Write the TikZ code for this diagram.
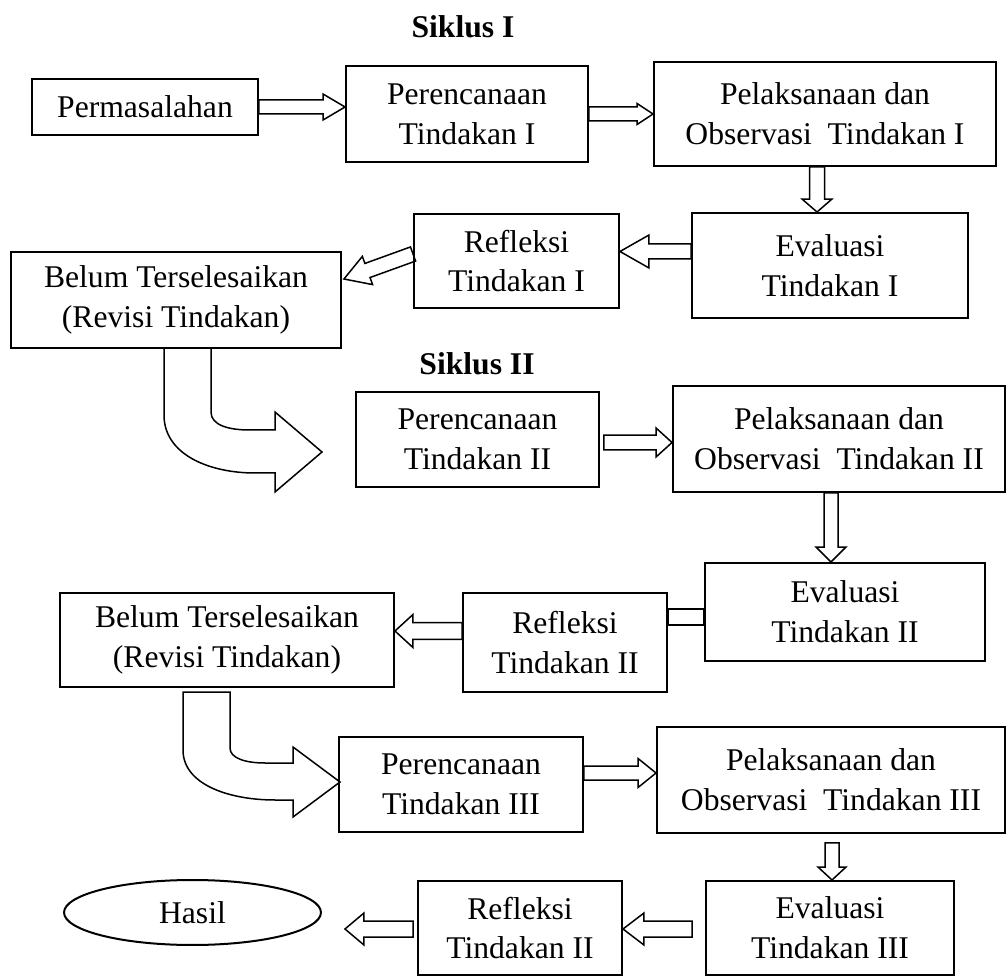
\documentclass[tikz,border=0pt]{standalone}
\usepackage{fontspec}
\setmainfont{Liberation Serif}
\usetikzlibrary{calc}
\usetikzlibrary{shapes.geometric}

\tikzset{
  kotak/.style={draw, line width=0.04cm, color=black, align=center,
                inner sep=0cm, font=\fontsize{18}{22.7}\selectfont},
  judul/.style={font=\bfseries\fontsize{18}{22}\selectfont},
  panah/.style={draw, line width=0.03cm, color=black, line join=miter},
}

% panah blok: dari, ke, setengah batang, setengah kepala, panjang kepala
\newcommand{\blokpanah}[5]{%
  \path (#1) coordinate (pa);
  \path (#2) coordinate (pb);
  \path ($(pb)!#5!(pa)$) coordinate (pm);
  \draw[panah] ($(pa)!#3!90:(pb)$) -- ($(pm)!#3!-90:(pa)$)
    -- ($(pm)!#4!-90:(pa)$) -- (pb) -- ($(pm)!#4!90:(pa)$)
    -- ($(pm)!#3!90:(pa)$) -- ($(pa)!#3!-90:(pb)$) -- cycle;
}

\begin{document}
\begin{tikzpicture}[x=0.02cm, y=-0.02cm]
\useasboundingbox (0,0) rectangle (1008,976);

\node[judul] (s1) at (463,27) {Siklus I};
\node[judul] (s2) at (477,364) {Siklus II};

% siklus I
\node[kotak, minimum width=4.52cm, minimum height=1.12cm] (perm) at (145,107) {Permasalahan};
\node[kotak, minimum width=4.84cm, minimum height=1.92cm] (pI) at (467,114) {Perencanaan\\Tindakan I};
\node[kotak, minimum width=6.84cm, minimum height=2.08cm] (pelI) at (825,114) {Pelaksanaan dan\\Observasi~ Tindakan I};
\node[kotak, minimum width=5.52cm, minimum height=2.10cm] (evI) at (830,265.5) {Evaluasi\\Tindakan I};
\node[kotak, minimum width=4.10cm, minimum height=1.88cm] (refI) at (516.5,261) {Refleksi\\Tindakan I};
\node[kotak, minimum width=6.60cm, minimum height=1.92cm] (belI) at (176,300) {Belum Terselesaikan\\(Revisi Tindakan)};

% siklus II
\node[kotak, minimum width=4.86cm, minimum height=1.90cm] (perII) at (477.5,439.5) {Perencanaan\\Tindakan II};
\node[kotak, minimum width=6.64cm, minimum height=2.12cm] (pelII) at (839,439) {Pelaksanaan dan\\Observasi~ Tindakan II};
\node[kotak, minimum width=5.60cm, minimum height=1.96cm] (evII) at (845,612) {Evaluasi\\Tindakan II};
\node[kotak, minimum width=4.08cm, minimum height=1.98cm] (refII) at (565,642.5) {Refleksi\\Tindakan II};
\node[kotak, minimum width=6.68cm, minimum height=1.88cm] (belII) at (227,640) {Belum Terselesaikan\\(Revisi Tindakan)};

% siklus III
\node[kotak, minimum width=4.88cm, minimum height=1.90cm] (perIII) at (461,784.5) {Perencanaan\\Tindakan III};
\node[kotak, minimum width=6.96cm, minimum height=2.12cm] (pelIII) at (831,780) {Pelaksanaan dan\\Observasi~ Tindakan III};
\node[kotak, minimum width=4.96cm, minimum height=1.88cm] (evIII) at (830,928) {Evaluasi\\Tindakan III};
\node[kotak, minimum width=4.08cm, minimum height=1.88cm] (refB) at (520,928) {Refleksi\\Tindakan II};
\node[kotak, ellipse, minimum width=5.14cm, minimum height=1.30cm] (hasil) at (192.5,912.5) {Hasil};

% panah siklus I
\blokpanah{perm.east}{pa -| pI.west}{0.14cm}{0.26cm}{0.44cm}
\blokpanah{pI.east}{pa -| pelI.west}{0.14cm}{0.21cm}{0.32cm}
\blokpanah{$(pelI.south)+(-8,0)$}{pa |- evI.north}{0.15cm}{0.30cm}{0.26cm}
\blokpanah{$(evI.west)+(0,-14)$}{pa -| refI.east}{0.15cm}{0.33cm}{0.58cm}
\blokpanah{$(refI.west)+(0,-7)$}{$(belI.east)+(2,-21)$}{0.15cm}{0.30cm}{0.50cm}

% panah lengkung ke siklus II
\draw[panah] (164,348) -- (164,415) .. controls (164,455) and (210,473) .. (255,473)
  -- (275,473) -- (275,492) -- (322,452) -- (275,412) -- (275,430) -- (250,430)
  .. controls (228,430) and (211,425) .. (211,412) -- (211,348) -- cycle;

% panah siklus II
\blokpanah{$(perII.east)+(4,3)$}{pa -| pelII.west}{0.15cm}{0.29cm}{0.32cm}
\blokpanah{$(pelII.south)+(-8,0)$}{pa |- evII.north}{0.14cm}{0.30cm}{0.30cm}
\draw[panah] ($(refII.east)+(0,-33.5)$) rectangle ($(refII.east -| evII.west)+(0,-17.5)$);
\blokpanah{$(refII.west)+(0,-11.5)$}{pa -| belII.east}{0.17cm}{0.33cm}{0.36cm}

% panah lengkung ke siklus III
\draw[panah] (183,692) -- (183,750) .. controls (183,785) and (230,800) .. (275,800)
  -- (293,800) -- (293,817) -- (340,782) -- (293,747) -- (293,763) -- (265,763)
  .. controls (245,763) and (230,758) .. (230,748) -- (230,692) -- cycle;

% panah siklus III
\blokpanah{$(perIII.east)+(0,-11.5)$}{pa -| pelIII.west}{0.14cm}{0.29cm}{0.36cm}
\blokpanah{$(pelIII.south)+(1,9)$}{pa |- evIII.north}{0.14cm}{0.28cm}{0.26cm}
\blokpanah{$(evIII.west)+(-13,1)$}{pa -| refB.east}{0.16cm}{0.32cm}{0.42cm}
\blokpanah{$(refB.west)+(-4,1)$}{$(pa -| hasil.east)+(23,0)$}{0.16cm}{0.32cm}{0.38cm}
\end{tikzpicture}
\end{document}
